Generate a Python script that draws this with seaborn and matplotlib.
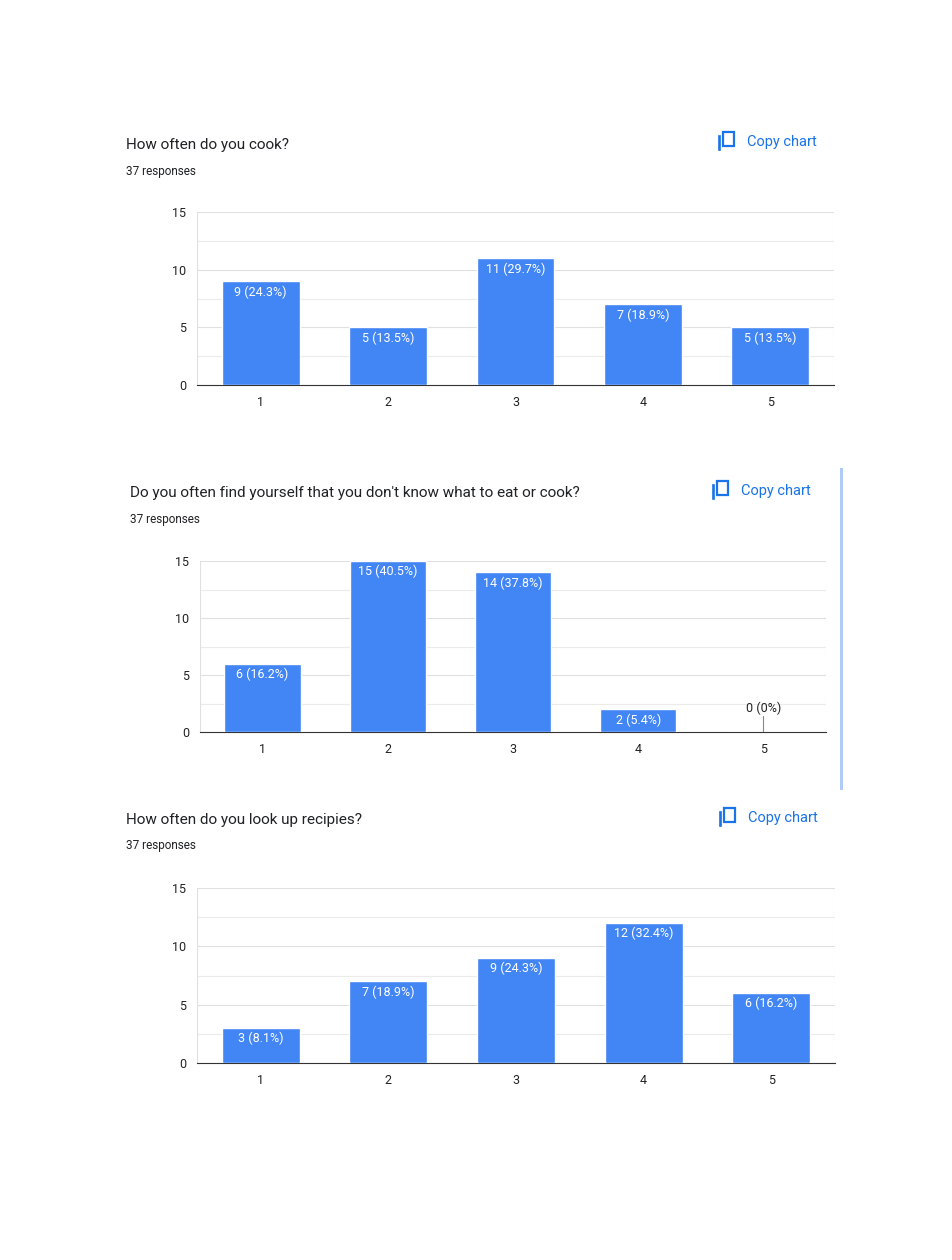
import matplotlib
matplotlib.use("Agg")
import matplotlib.pyplot as plt
import matplotlib.patches as patches
import seaborn as sns
import pandas as pd

sns.set_style("white")
plt.rcParams['font.family'] = ['Roboto', 'DejaVu Sans']

options = ["1", "2", "3", "4", "5"]
titles = ["How often do you cook?",
          "Do you often find yourself that you don't know what to eat or cook?",
          "How often do you look up recipies?"]
responses = [37, 37, 37]
cook = [9, 5, 11, 7, 5]
dont_know = [6, 15, 14, 2, 0]
recipes = [3, 7, 9, 12, 6]
pcts = [["24.3%", "13.5%", "29.7%", "18.9%", "13.5%"],
        ["16.2%", "40.5%", "37.8%", "5.4%", "0%"],
        ["8.1%", "18.9%", "24.3%", "32.4%", "16.2%"]]

W, H = 952, 1260
fig = plt.figure(figsize=(W / 100, H / 100), dpi=100)

# plot area boxes in pixels: left, right, top, bottom
boxes = [(197, 834, 212, 385), (200, 826, 561, 732), (197, 835, 888, 1063)]
title_pos = [(126, 145), (130, 493), (126, 820)]
copy_pos = [(719, 142), (713, 491), (720, 818)]

for i, vals in enumerate([cook, dont_know, recipes]):
    l, r, t, b = boxes[i]
    ax = fig.add_axes([l / W, 1 - b / H, (r - l) / W, (b - t) / H])
    df = pd.DataFrame({"opt": options, "n": vals})
    sns.barplot(data=df, x="opt", y="n", color="#4285F4", saturation=1,
                width=0.61, ax=ax, zorder=3)
    ax.set_ylim(0, 15)
    ax.set_yticks([0, 5, 10, 15])
    for y in [2.5, 5, 7.5, 10, 12.5, 15]:
        ax.axhline(y, color="#ebebeb" if y % 5 else "#e0e0e0", lw=0.8, zorder=1)
    for s in ["top", "right", "left"]:
        ax.spines[s].set_visible(False)
    ax.spines["bottom"].set_color("#333333")
    ax.axvline(-0.5, color="#e0e0e0", lw=0.8, zorder=1)
    ax.axvline(4.5, color="#e0e0e0", lw=0.8, zorder=1)
    ax.set_xlim(-0.5, 4.5)
    ax.set_xlabel("")
    ax.set_ylabel("")
    ax.tick_params(length=0, labelsize=9, colors="#222222", pad=8)
    for j, v in enumerate(vals):
        lab = f"{v} ({pcts[i][j]})"
        if v >= 1:
            ax.text(j, v - 0.35, lab, ha="center", va="top", color="white", fontsize=9, zorder=4)
        else:
            ax.text(j, v + 1.5, lab, ha="center", va="bottom", color="#222222", fontsize=9, zorder=4)
            ax.plot([j, j], [0, 1.4], color="#888888", lw=0.8, zorder=4)

    tx, ty = title_pos[i]
    fig.text(tx / W, 1 - ty / H, titles[i], fontsize=11, color="#202124", va="center")
    fig.text(tx / W, 1 - (ty + 26) / H, f"{responses[i]} responses", fontsize=8.5,
             color="#202124", va="center")
    cx, cy = copy_pos[i]
    fig.patches.append(patches.Rectangle(((cx + 4) / W, 1 - (cy + 4) / H), 11 / W, 14 / H,
                                         fill=False, ec="#1a73e8", lw=1.6,
                                         transform=fig.transFigure))
    fig.patches.append(patches.Rectangle(((cx) / W, 1 - (cy + 8) / H), 1 / W, 14 / H,
                                         fill=True, fc="#1a73e8", ec="#1a73e8", lw=1.2,
                                         transform=fig.transFigure))
    fig.text((cx + 28) / W, 1 - cy / H, "Copy chart", fontsize=10.5, color="#1a73e8",
             va="center")

# scrollbar strip next to second chart
fig.patches.append(patches.Rectangle((840 / W, 1 - 790 / H), 3 / W, 322 / H,
                                     fc="#aecbfa", ec="none", transform=fig.transFigure))

fig.savefig("out.png", dpi=100)
